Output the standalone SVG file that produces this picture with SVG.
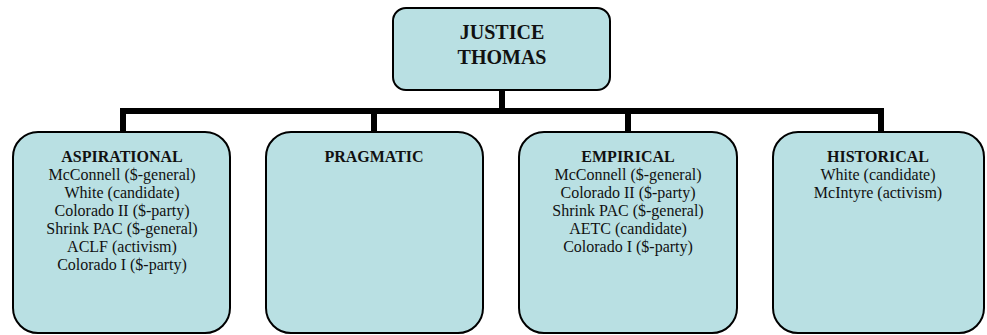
<svg xmlns="http://www.w3.org/2000/svg" width="987" height="335" viewBox="0 0 987 335">
<style>
.box{fill:#B9E0E3;stroke:#000;stroke-width:2}
.t{font-family:"Liberation Serif","Times New Roman",serif;font-size:16px;fill:#111;text-anchor:middle}
.b{font-weight:bold}
.top{font-family:"Liberation Serif","Times New Roman",serif;font-size:20px;font-weight:bold;fill:#111;text-anchor:middle}
.c{fill:none;stroke:#000;stroke-width:6;stroke-linejoin:miter}
</style>
<rect width="987" height="335" fill="#fff"/>
<g id="connectors">
<path class="c" d="M502,90 V111"/>
<path class="c" d="M123,132 V111 H881 V132"/>
<path class="c" d="M374,111 V132"/>
<path class="c" d="M628,111 V132"/>
</g>
<g id="justice-thomas">
<rect class="box" x="393" y="8" width="217" height="82" rx="13"/>
<text class="top" x="502" y="39">JUSTICE</text>
<text class="top" x="502" y="64">THOMAS</text>
</g>
<g id="aspirational">
<rect class="box" x="13" y="132" width="217" height="201" rx="25"/>
<text class="t b" x="122" y="162">ASPIRATIONAL</text>
<text class="t" x="122" y="180">McConnell ($-general)</text>
<text class="t" x="122" y="198">White (candidate)</text>
<text class="t" x="122" y="216">Colorado II ($-party)</text>
<text class="t" x="122" y="234">Shrink PAC ($-general)</text>
<text class="t" x="122" y="252">ACLF (activism)</text>
<text class="t" x="122" y="270">Colorado I ($-party)</text>
</g>
<g id="pragmatic">
<rect class="box" x="266" y="132" width="217" height="201" rx="25"/>
<text class="t b" x="374" y="162">PRAGMATIC</text>
</g>
<g id="empirical">
<rect class="box" x="519" y="132" width="218" height="201" rx="25"/>
<text class="t b" x="628" y="162">EMPIRICAL</text>
<text class="t" x="628" y="180">McConnell ($-general)</text>
<text class="t" x="628" y="198">Colorado II ($-party)</text>
<text class="t" x="628" y="216">Shrink PAC ($-general)</text>
<text class="t" x="628" y="234">AETC (candidate)</text>
<text class="t" x="628" y="252">Colorado I ($-party)</text>
</g>
<g id="historical">
<rect class="box" x="773" y="132" width="211" height="201" rx="25"/>
<text class="t b" x="878" y="162">HISTORICAL</text>
<text class="t" x="878" y="180">White (candidate)</text>
<text class="t" x="878" y="198">McIntyre (activism)</text>
</g>
</svg>
